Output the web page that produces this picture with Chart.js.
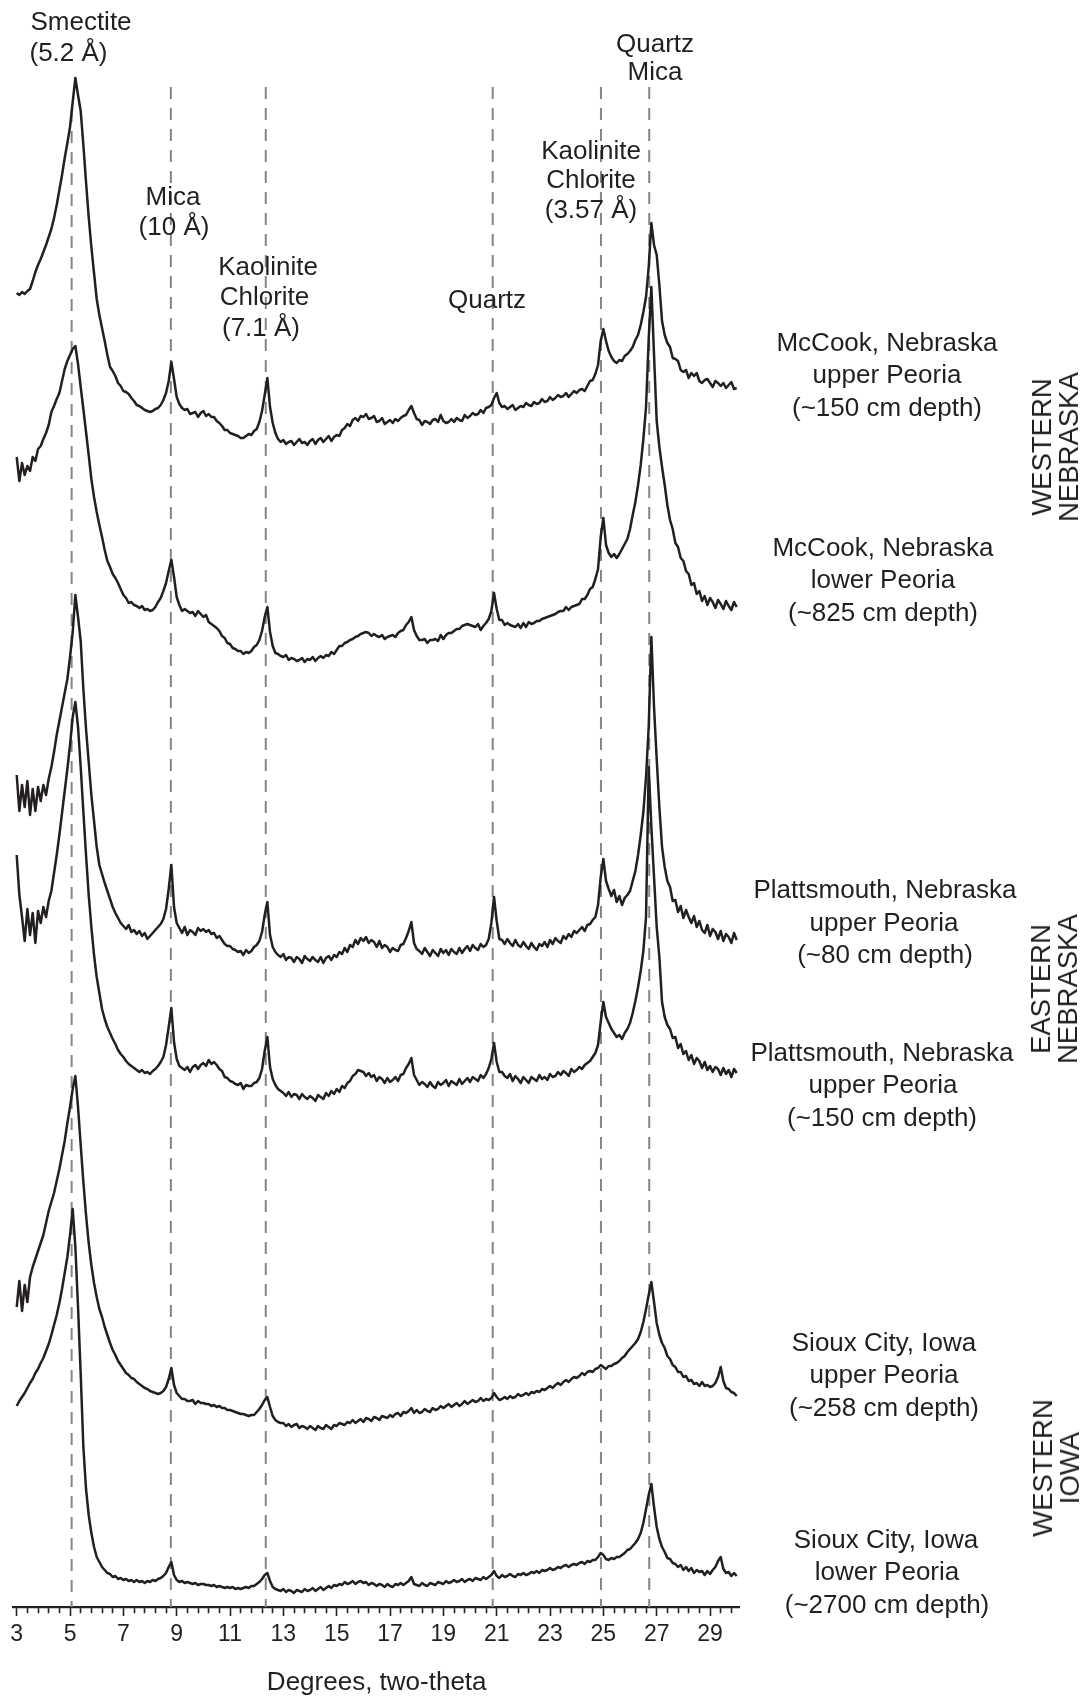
<!DOCTYPE html>
<html><head><meta charset="utf-8">
<script src="https://cdn.jsdelivr.net/npm/chart.js@4.4.1/dist/chart.umd.min.js"></script>
<style>
html,body{margin:0;padding:0;background:#fff;}
#wrap{position:relative;width:1084px;height:1697px;overflow:hidden;background:#fff;}
#c{position:absolute;left:0;top:0;}
.t{position:absolute;transform:translate(-50%,-50%);white-space:nowrap;font-family:"Liberation Sans",Arial,Helvetica,sans-serif;font-size:26px;line-height:26px;color:#231f20;}
.r{position:absolute;transform:translate(-50%,-50%) rotate(-90deg);white-space:nowrap;text-align:center;font-family:"Liberation Sans",Arial,Helvetica,sans-serif;font-size:27.5px;line-height:27px;color:#231f20;}
</style></head>
<body><div id="wrap"><canvas id="c" width="1084" height="1697"></canvas></div>
<script>
// ---- DATA ----
// scan grid (degrees two-theta)
const twoTheta = [
3.0,3.1,3.2,3.3,3.4,3.5,3.6,3.7,3.8,3.9,4.0,4.1,4.2,4.3,4.4,4.5,4.6,4.7,4.8,4.9,
5.0,5.1,5.2,5.3,5.4,5.5,5.6,5.7,5.8,5.9,6.0,6.1,6.2,6.3,6.4,6.5,6.6,6.7,6.8,6.9,
7.0,7.1,7.2,7.3,7.4,7.5,7.6,7.7,7.8,7.9,8.0,8.1,8.2,8.3,8.4,8.5,8.6,8.7,8.8,8.9,
9.0,9.1,9.2,9.3,9.4,9.5,9.6,9.7,9.8,9.9,10.0,10.1,10.2,10.3,10.4,10.5,10.6,10.7,10.8,10.9,
11.0,11.1,11.2,11.3,11.4,11.5,11.6,11.7,11.8,11.9,12.0,12.1,12.2,12.3,12.4,12.5,12.6,12.7,12.8,12.9,
13.0,13.1,13.2,13.3,13.4,13.5,13.6,13.7,13.8,13.9,14.0,14.1,14.2,14.3,14.4,14.5,14.6,14.7,14.8,14.9,
15.0,15.1,15.2,15.3,15.4,15.5,15.6,15.7,15.8,15.9,16.0,16.1,16.2,16.3,16.4,16.5,16.6,16.7,16.8,16.9,
17.0,17.1,17.2,17.3,17.4,17.5,17.6,17.7,17.8,17.9,18.0,18.1,18.2,18.3,18.4,18.5,18.6,18.7,18.8,18.9,
19.0,19.1,19.2,19.3,19.4,19.5,19.6,19.7,19.8,19.9,20.0,20.1,20.2,20.3,20.4,20.5,20.6,20.7,20.8,20.9,
21.0,21.1,21.2,21.3,21.4,21.5,21.6,21.7,21.8,21.9,22.0,22.1,22.2,22.3,22.4,22.5,22.6,22.7,22.8,22.9,
23.0,23.1,23.2,23.3,23.4,23.5,23.6,23.7,23.8,23.9,24.0,24.1,24.2,24.3,24.4,24.5,24.6,24.7,24.8,24.9,
25.0,25.1,25.2,25.3,25.4,25.5,25.6,25.7,25.8,25.9,26.0,26.1,26.2,26.3,26.4,26.5,26.6,26.7,26.8,26.9,
27.0,27.1,27.2,27.3,27.4,27.5,27.6,27.7,27.8,27.9,28.0,28.1,28.2,28.3,28.4,28.5,28.6,28.7,28.8,28.9,
29.0,29.1,29.2,29.3,29.4,29.5,29.6,29.7,29.8,29.9,30.0];

// stacked intensities (arbitrary units, offset patterns)
const mccookUpper150 = [
1314,1312,1315,1313,1316,1318,1326,1335,1342,1348,
1355,1362,1370,1378,1389,1402,1417,1432,1449,1464,
1480,1505,1529,1512,1496,1462,1425,1390,1360,1334,
1308,1292,1279,1266,1252,1240,1236,1231,1224,1221,
1216,1215,1213,1209,1206,1202,1201,1199,1197,1196,
1195,1196,1198,1199,1202,1207,1214,1226,1245,1228,
1210,1203,1199,1197,1198,1193,1194,1195,1190,1194,
1196,1191,1193,1190,1190,1186,1184,1181,1177,1177,
1174,1173,1172,1171,1169,1169,1171,1173,1172,1176,
1178,1185,1196,1212,1229,1200,1184,1174,1168,1165,
1167,1163,1165,1166,1162,1165,1168,1164,1165,1162,
1166,1168,1163,1167,1169,1165,1168,1171,1166,1170,
1172,1171,1177,1179,1183,1181,1187,1189,1186,1191,
1190,1193,1188,1189,1191,1185,1186,1189,1183,1185,
1187,1184,1188,1186,1189,1191,1192,1197,1201,1194,
1188,1187,1182,1186,1185,1183,1187,1188,1185,1192,
1186,1184,1185,1188,1185,1189,1187,1186,1192,1189,
1191,1194,1192,1193,1197,1194,1199,1200,1202,1209,
1214,1204,1200,1201,1198,1200,1202,1197,1199,1201,
1200,1204,1202,1201,1205,1203,1204,1208,1205,1206,
1210,1207,1209,1212,1210,1211,1214,1210,1213,1216,
1214,1217,1218,1216,1221,1226,1227,1233,1242,1266,
1278,1266,1256,1250,1246,1244,1247,1246,1251,1253,
1256,1260,1267,1272,1282,1295,1310,1340,1384,1362,
1352,1322,1286,1272,1264,1260,1249,1248,1246,1237,
1235,1237,1229,1234,1231,1234,1226,1224,1227,1228,
1224,1220,1226,1224,1221,1224,1219,1222,1225,1218,
1219];

const mccookLower825 = [
1150,1126,1144,1132,1141,1136,1150,1146,1158,1161,
1168,1174,1182,1195,1201,1208,1214,1226,1238,1246,
1252,1258,1261,1243,1220,1198,1175,1152,1128,1110,
1095,1082,1070,1057,1046,1040,1033,1029,1024,1018,
1012,1009,1004,1005,1002,1001,999,1001,997,998,
996,997,1000,1005,1009,1016,1024,1036,1047,1030,
1010,1002,996,998,996,994,995,991,996,993,
990,992,985,983,981,979,976,971,969,964,
963,959,958,956,956,953,955,954,956,960,
962,967,976,990,1000,975,961,954,953,951,
950,952,947,949,948,946,947,949,945,948,
947,950,946,949,951,949,952,951,955,953,
957,961,961,964,965,967,968,970,971,973,
974,975,974,971,973,971,970,972,968,970,
971,972,970,974,976,977,982,985,990,977,
971,967,967,968,964,967,967,968,966,972,
968,972,974,974,976,978,978,981,982,983,
982,981,980,983,977,981,984,988,996,1014,
998,987,987,982,984,982,981,980,983,979,
984,980,985,983,984,986,986,988,989,990,
991,992,993,995,996,996,1000,997,1000,1001,
1002,1003,1008,1008,1012,1018,1020,1028,1038,1070,
1089,1062,1054,1050,1053,1049,1053,1058,1063,1068,
1078,1092,1105,1122,1142,1168,1200,1268,1320,1252,
1186,1160,1140,1122,1102,1087,1078,1064,1060,1049,
1046,1036,1033,1022,1024,1013,1016,1006,1011,1002,
1009,1005,999,1007,1003,998,1006,1001,997,1005,
1000];

const plattsUpper80 = [
832,796,822,800,826,792,818,796,820,806,
822,812,828,840,855,872,886,900,914,928,
950,975,1012,990,966,918,878,845,812,786,
760,742,733,724,716,708,700,694,689,684,
681,678,682,675,677,673,676,671,674,668,
671,674,677,680,683,688,698,718,742,700,
684,679,674,680,672,677,675,672,679,676,
678,675,677,673,674,669,671,667,663,661,
661,658,657,655,656,652,657,654,656,660,
662,666,675,692,705,672,660,655,652,650,
653,647,650,649,645,650,648,644,651,648,
646,650,647,645,650,644,649,651,647,652,
650,655,653,659,655,662,660,667,663,669,
666,670,664,667,665,660,666,659,662,660,
655,659,657,656,662,663,669,676,685,664,
658,656,653,659,655,651,657,654,651,658,
654,657,652,658,655,653,659,654,658,661,
656,662,659,657,663,660,662,668,684,710,
686,668,667,663,668,664,661,667,662,660,
665,661,658,664,660,657,663,661,665,660,
667,663,669,666,664,671,668,673,670,676,
674,677,680,676,682,683,687,690,702,730,
748,726,718,711,717,705,711,702,709,712,
716,726,736,752,772,795,830,880,970,900,
848,800,760,740,726,720,706,707,695,701,
689,697,690,684,691,680,686,677,674,682,
671,678,675,668,676,666,673,670,664,674,
667];

const plattsUpper150 = [
752,712,690,666,698,672,694,664,696,684,
700,690,706,716,734,752,772,794,816,838,
862,890,905,880,840,795,752,712,680,652,
630,614,598,588,580,574,568,563,557,553,
550,546,543,541,539,537,535,537,534,535,
533,536,538,541,545,550,562,580,599,565,
548,541,539,537,540,535,540,542,538,542,
544,541,547,543,545,542,538,536,530,529,
526,525,523,522,524,518,522,521,521,524,
525,529,538,556,570,540,528,522,518,516,
514,511,515,510,513,512,508,513,510,508,
511,509,506,512,510,508,514,511,516,513,
518,515,521,519,524,526,531,533,537,536,
535,531,534,530,532,526,530,528,524,529,
525,527,530,526,532,533,539,543,549,532,
527,522,525,523,520,525,521,519,525,522,
524,527,521,526,524,522,528,523,526,529,
525,530,528,526,532,529,533,539,548,564,
545,535,535,531,529,533,526,531,528,524,
530,527,524,530,528,526,532,528,530,527,
533,530,531,535,532,536,534,531,538,535,
537,540,538,542,544,546,550,554,562,585,
605,590,584,578,574,570,572,568,574,578,
584,594,606,620,636,656,690,840,780,730,
680,650,605,590,582,578,569,570,559,563,
553,556,547,552,543,549,546,539,545,537,
541,535,540,538,532,539,533,537,530,538,
534];

const siouxUpper258 = [
300,326,296,322,305,330,340,348,356,364,
372,384,396,405,414,426,438,452,466,484,
500,518,531,500,462,425,392,364,342,324,
310,298,290,280,272,264,257,252,246,242,
238,234,232,229,228,225,223,221,219,218,
216,215,214,213,214,216,220,228,239,222,
214,211,208,208,206,206,207,203,206,204,
204,203,203,201,202,200,201,199,199,197,
197,196,195,194,193,193,192,191,192,192,
195,198,202,207,210,200,191,187,185,184,
184,181,183,180,182,183,179,181,180,178,
181,179,177,181,179,178,182,180,178,182,
181,184,183,182,185,184,187,184,186,188,
185,189,188,186,190,189,187,191,190,189,
192,190,193,194,191,195,194,196,199,194,
197,194,195,198,196,195,199,197,198,201,
199,201,203,200,202,204,201,203,206,203,
205,207,205,206,209,206,208,207,209,214,
210,207,208,210,208,211,209,210,213,211,
212,214,212,215,214,216,215,218,217,219,
221,219,222,224,222,225,227,225,228,230,
229,231,234,232,235,236,235,238,239,242,
240,238,241,241,243,244,246,249,251,255,
258,261,264,268,275,285,298,312,325,305,
284,272,264,259,251,248,242,240,235,235,
230,231,226,227,223,224,221,225,221,222,
220,221,224,230,240,226,219,218,215,214,
211];

const siouxLower2700 = [
201,206,210,214,219,224,228,234,238,244,
249,256,263,272,282,292,304,318,334,350,
372,398,360,300,233,160,118,92,74,60,
50,45,40,37,34,33,30,31,28,29,
27,28,26,27,25,27,25,26,24,26,
25,27,26,28,29,31,34,40,45,32,
27,25,26,24,25,24,23,24,22,23,
23,22,22,21,22,20,21,20,19,20,
19,20,18,19,18,19,20,19,21,21,
23,25,28,32,34,26,20,18,17,16,
18,15,17,16,14,17,16,15,18,16,
17,19,16,18,20,17,19,21,19,22,
21,23,22,25,23,24,26,23,25,26,
24,25,22,24,23,21,23,22,20,23,
21,20,23,22,24,22,24,26,30,23,
22,21,24,22,21,24,23,22,25,24,
23,26,24,25,27,25,26,28,25,27,
28,26,29,28,27,30,28,30,32,36,
31,29,32,30,31,33,31,30,33,32,
34,32,33,35,34,36,34,37,36,37,
39,37,38,40,39,41,42,40,42,43,
42,44,45,43,46,45,47,47,50,54,
52,48,47,49,48,50,50,52,54,57,
58,61,64,68,74,84,98,112,123,100,
80,68,60,55,49,48,44,43,40,42,
37,40,36,39,34,37,35,36,32,36,
33,37,40,46,50,38,34,35,31,34,
31];

// mineral reference lines (degrees two-theta) and their upper ends (a.u.)
const refLines = [5.06, 8.78, 12.34, 20.85, 24.91, 26.72];
const refTop   = [1497, 1520, 1520, 1520, 1520, 1520];

// axis ticks
const majorTicks = [3,5,7,9,11,13,15,17,19,21,23,25,27,29];
const tickLabels = ['3','5','7','9','11','13','15','17','19','21','23','25','27','29'];
const minorStep = 0.4;

// ---- TEXT ----
const INK = '#231f20';
const annotations = [
  ['Smectite', 81, 21], ['(5.2 Å)', 68.5, 52],
  ['Mica', 173, 196], ['(10 Å)', 174, 226],
  ['Kaolinite', 268, 266], ['Chlorite', 264.5, 296], ['(7.1 Å)', 261, 327],
  ['Quartz', 487, 299],
  ['Kaolinite', 591, 150], ['Chlorite', 591, 179], ['(3.57 Å)', 591, 209],
  ['Quartz', 655, 43], ['Mica', 655, 71],
  ['McCook, Nebraska', 887, 342], ['upper Peoria', 887, 374], ['(~150 cm depth)', 887, 407],
  ['McCook, Nebraska', 883, 547], ['lower Peoria', 883, 579], ['(~825 cm depth)', 883, 612],
  ['Plattsmouth, Nebraska', 885, 889], ['upper Peoria', 884, 922], ['(~80 cm depth)', 885, 954],
  ['Plattsmouth, Nebraska', 882, 1052], ['upper Peoria', 883, 1084], ['(~150 cm depth)', 882, 1117],
  ['Sioux City, Iowa', 884, 1342], ['upper Peoria', 884, 1374], ['(~258 cm depth)', 884, 1407],
  ['Sioux City, Iowa', 886, 1539], ['lower Peoria', 887, 1571], ['(~2700 cm depth)', 887, 1604]
];
const regions = [
  ['WESTERN', 'NEBRASKA', 1054.5, 447],
  ['EASTERN', 'NEBRASKA', 1054, 988.5],
  ['WESTERN', 'IOWA', 1056, 1468]
];
const wrap = document.getElementById('wrap');
annotations.forEach(([txt, x, y]) => {
  const d = document.createElement('div'); d.className = 't';
  d.style.left = x + 'px'; d.style.top = y + 'px'; d.textContent = txt; wrap.appendChild(d);
});
regions.forEach(([a, b, x, y]) => {
  const d = document.createElement('div'); d.className = 'r';
  d.style.left = x + 'px'; d.style.top = y + 'px';
  d.innerHTML = a + '<br>' + b; wrap.appendChild(d);
});

// ---- CHART ----
Chart.defaults.font.family = '"Liberation Sans", Arial, Helvetica, sans-serif';
const series = [mccookUpper150, mccookLower825, plattsUpper80, plattsUpper150, siouxUpper258, siouxLower2700];
const names = ['McCook upper Peoria (~150 cm)', 'McCook lower Peoria (~825 cm)', 'Plattsmouth upper Peoria (~80 cm)',
               'Plattsmouth upper Peoria (~150 cm)', 'Sioux City upper Peoria (~258 cm)', 'Sioux City lower Peoria (~2700 cm)'];
const datasets = [];
series.forEach((arr, k) => {
  datasets.push({
    label: names[k],
    data: twoTheta.map((x, i) => ({x: x, y: arr[i]})),
    borderColor: INK, borderWidth: 2.5, pointRadius: 0, tension: 0,
    borderJoinStyle: 'round', fill: false, order: 0
  });
});
refLines.forEach((pos, k) => {
  datasets.push({
    label: 'ref' + k,
    data: [{x: pos, y: refTop[k]}, {x: pos, y: 0}],
    borderColor: '#858585', borderWidth: 2, borderDash: [12, 9], pointRadius: 0, fill: false, order: 1
  });
});
const isMajor = v => majorTicks.some(m => Math.abs(m - v) < 1e-6);

new Chart(document.getElementById('c'), {
  type: 'line',
  data: { datasets },
  options: {
    responsive: false, animation: false, devicePixelRatio: 1,
    layout: { padding: { left: 13.5, right: 344.1, top: 60, bottom: 0 } },
    plugins: { legend: { display: false }, tooltip: { enabled: false } },
    scales: {
      x: {
        type: 'linear', min: 2.88, max: 30.12,
        afterBuildTicks: s => {
          const t = [];
          for (let i = 0; ; i++) { const v = Math.round((majorTicks[0] + i * minorStep) * 10) / 10; if (v > 30.0001) break; t.push({value: v}); }
          s.ticks = t;
        },
        afterFit: s => { s.height = 90; },
        ticks: {
          autoSkip: false, maxRotation: 0, minRotation: 0, padding: 7.5, color: INK,
          font: { size: 23, lineHeight: 1 },
          callback: v => { const i = majorTicks.findIndex(m => Math.abs(m - v) < 1e-6); return i >= 0 ? tickLabels[i] : ''; }
        },
        grid: {
          display: true, drawOnChartArea: false, drawTicks: true, tickLength: 9,
          tickWidth: 1.6, tickColor: INK, color: INK,
          tickBorderDash: c => (c.tick && isMajor(c.tick.value)) ? [] : [5, 60]
        },
        border: { display: true, color: INK, width: 2.2 },
        title: { display: true, text: 'Degrees, two-theta', color: INK, font: { size: 26, lineHeight: 1 }, padding: { top: 0, bottom: 1.5 } }
      },
      y: { display: false, min: 0, max: 1547 }
    }
  }
});
</script>
</body></html>
